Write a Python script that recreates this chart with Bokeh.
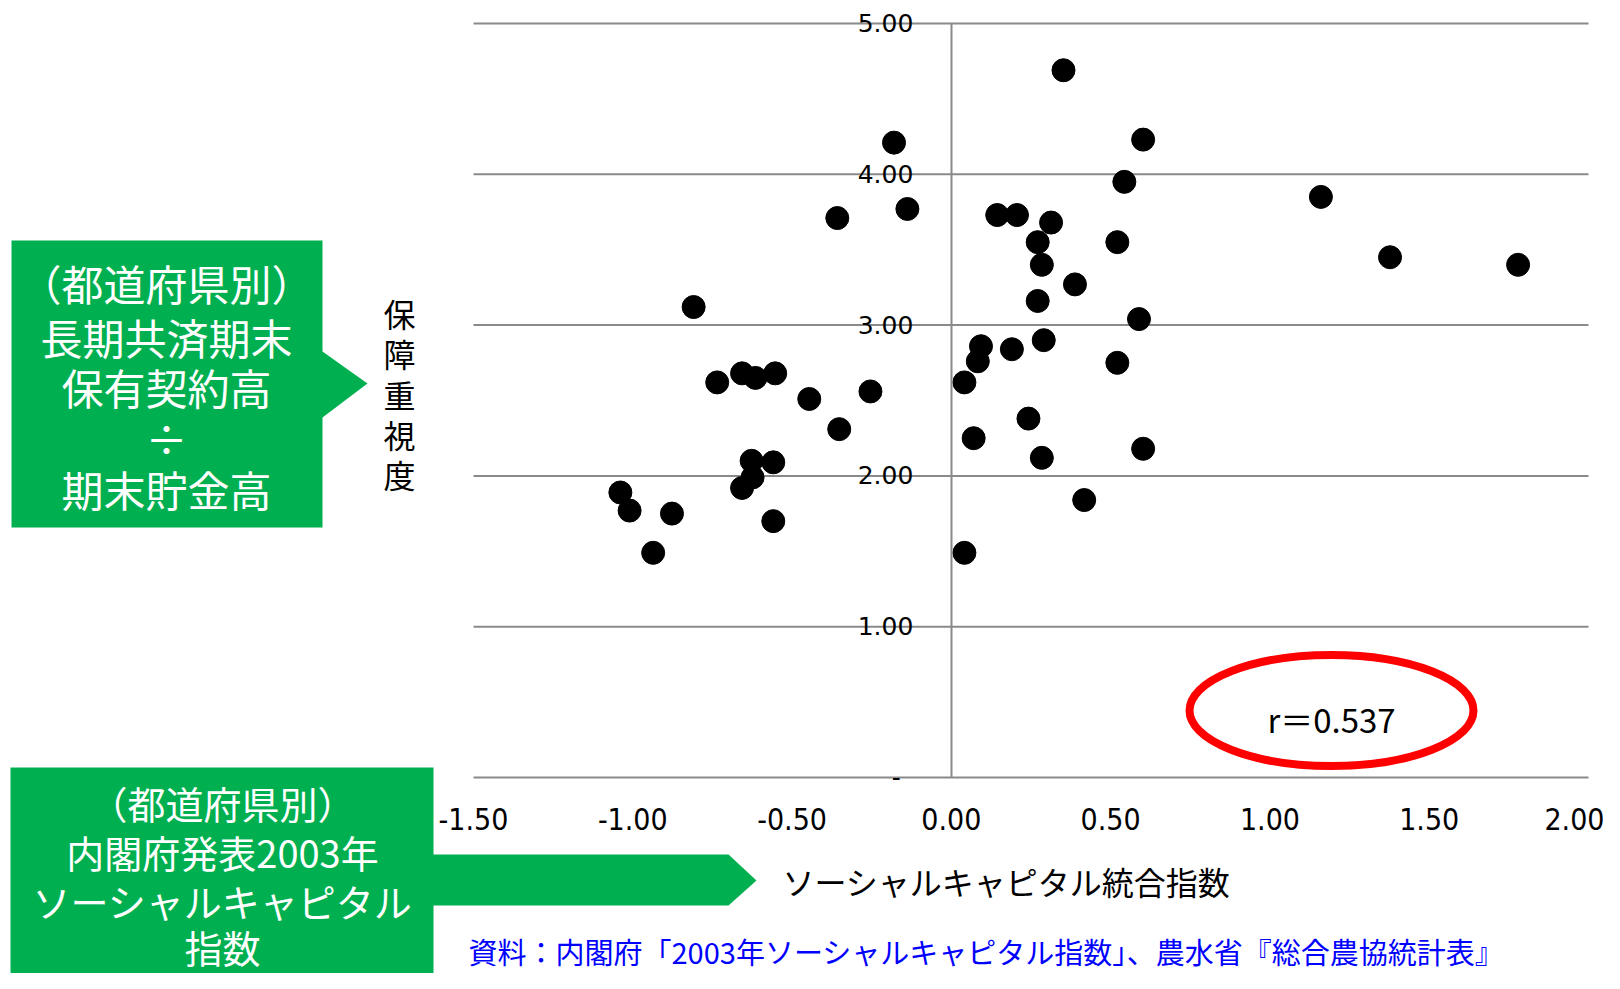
from bokeh.plotting import figure
from bokeh.models import (Range1d, LinearAxis, FixedTicker, CustomJSTickFormatter,
                          NumeralTickFormatter, Label)
from bokeh.embed import file_html
from bokeh.resources import INLINE

# ---- data ----
sc_index = [0.352, -0.180, 0.602, 0.543, 1.160, -0.358, -0.138, 0.144, 0.206, 0.313,
            0.271, 0.521, 0.284, 0.388, 0.271, 1.377, 1.779, 0.589, -0.809, 0.093,
            0.083, 0.190, 0.290, 0.521, 0.041, -0.735, -0.657, -0.615, -0.553, -0.446,
            -0.254, -0.352, 0.242, 0.070, 0.602, 0.284, -0.627, -0.559, -0.624, -0.657,
            0.417, -1.039, -1.010, -0.877, -0.559, -0.936, 0.041]
hosho = [4.69, 4.21, 4.23, 3.95, 3.85, 3.71, 3.77, 3.73, 3.73, 3.68,
         3.55, 3.55, 3.40, 3.27, 3.16, 3.45, 3.40, 3.04, 3.12, 2.86,
         2.76, 2.84, 2.90, 2.75, 2.62, 2.62, 2.68, 2.65, 2.68, 2.51,
         2.56, 2.31, 2.38, 2.25, 2.18, 2.12, 2.10, 2.09, 1.99, 1.92,
         1.84, 1.89, 1.77, 1.75, 1.70, 1.49, 1.49]
x_ticks = [-1.5, -1.0, -0.5, 0.0, 0.5, 1.0, 1.5, 2.0]
y_ticks = [0, 1, 2, 3, 4, 5]
grid_ticks = [1, 2, 3, 4, 5]
r_text = "r＝0.537"
box1_lines = ["（都道府県別）", "長期共済期末", "保有契約高", "÷", "期末貯金高"]
box2_lines = ["（都道府県別）", "内閣府発表2003年", "ソーシャルキャピタル", "指数"]
y_title = ["保", "障", "重", "視", "度"]
x_title = "ソーシャルキャピタル統合指数"
source = "資料：内閣府「2003年ソーシャルキャピタル指数」、農水省『総合農協統計表』"

JP = "Noto Sans CJK JP"
GREEN = "#00B050"
GRAY = "#8a8a8a"
XMIN, XMAX, YMIN, YMAX = x_ticks[0], x_ticks[-1], y_ticks[0], y_ticks[-1]

# picture pixel -> data coordinates (chart area: x 473..1588, y 23..777 in the picture)
PPX = 1115 / (XMAX - XMIN)
PPY = 754 / (YMAX - YMIN)

def X(px):
    return XMIN + (px - 473) / PPX

def Y(py):
    return YMIN + (777 - py) / PPY

W, H = 1604, 973
p = figure(width=W, height=H, x_range=Range1d(X(0), X(W)), y_range=Range1d(Y(H), Y(0)),
           x_axis_type=None, y_axis_type=None, output_backend="svg", toolbar_location=None,
           min_border=0)
p.outline_line_color = None
p.background_fill_color = "white"
p.border_fill_color = "white"
p.xgrid.visible = False
p.ygrid.visible = False

# horizontal gridlines over the chart area only
p.segment(x0=[XMIN] * len(grid_ticks), x1=[XMAX] * len(grid_ticks), y0=grid_ticks, y1=grid_ticks,
          line_color=GRAY, line_width=2)

# axes
xax = LinearAxis(fixed_location=0, bounds=(XMIN, XMAX), ticker=FixedTicker(ticks=x_ticks),
                 formatter=NumeralTickFormatter(format="0.00"),
                 axis_line_color=GRAY, axis_line_width=2, major_tick_out=0, major_tick_in=0,
                 minor_tick_out=0, minor_tick_in=0, major_label_standoff=30,
                 major_label_text_font="'Liberation Sans Narrow', 'DejaVu Sans Condensed', sans-serif",
                 major_label_text_font_size="30px", major_label_text_color="black")
p.add_layout(xax, "below")

yax = LinearAxis(fixed_location=0, bounds=(YMIN, YMAX), ticker=FixedTicker(ticks=y_ticks),
                 formatter=CustomJSTickFormatter(code="return tick == 0 ? '-\u2002' : tick.toFixed(2);"),
                 axis_line_color=GRAY, axis_line_width=2, major_tick_out=0, major_tick_in=0,
                 minor_tick_out=0, minor_tick_in=0, major_label_standoff=38,
                 major_label_text_font="DejaVu Sans", major_label_text_font_size="25px",
                 major_label_text_color="black")
p.add_layout(yax, "left")

# points
p.scatter(sc_index, hosho, size=23, color="black")

# correlation ellipse
p.ellipse(x=[X(1331)], y=[Y(710)], width=[284 / PPX], height=[111 / PPY],
          fill_color=None, line_color="#FF0000", line_width=8)
p.add_layout(Label(x=X(1331), y=Y(718), text=r_text, text_align="center", text_baseline="middle",
                   text_font=JP, text_font_size="33px", text_color="black"))

# green callout boxes
b1x = [11, 322, 322, 367, 322, 322, 11]
b1y = [240, 240, 351, 383, 417, 527, 527]
p.patch([X(v) for v in b1x], [Y(v) for v in b1y], fill_color=GREEN, line_color=None)
b2x = [10, 433, 433, 728, 756, 728, 433, 433, 10]
b2y = [767, 767, 854, 854, 880, 905, 905, 995, 995]
p.patch([X(v) for v in b2x], [Y(v) for v in b2y], fill_color=GREEN, line_color=None)

for txt, py in zip(box1_lines, [282, 336, 386, 437, 488]):
    p.add_layout(Label(x=X(166), y=Y(py), text=txt, text_align="center", text_baseline="middle",
                       text_font=JP, text_font_size="42px", text_color="white"))
for txt, py in zip(box2_lines, [802, 851, 900, 946]):
    p.add_layout(Label(x=X(222), y=Y(py), text=txt, text_align="center", text_baseline="middle",
                       text_font=JP, text_font_size="38px", text_color="white"))

for txt, py in zip(y_title, [312, 352, 393, 433, 473]):
    p.add_layout(Label(x=X(399), y=Y(py), text=txt, text_align="center", text_baseline="middle",
                       text_font=JP, text_font_size="32px", text_color="black"))

p.add_layout(Label(x=X(1006), y=Y(880), text=x_title, text_align="center", text_baseline="middle",
                   text_font=JP, text_font_size="32px", text_color="black"))
p.add_layout(Label(x=X(468), y=Y(950), text=source, text_align="left", text_baseline="middle",
                   text_font=JP, text_font_size="29px", text_color="#0000FF"))

open("out.html", "w").write(file_html(p, INLINE))
